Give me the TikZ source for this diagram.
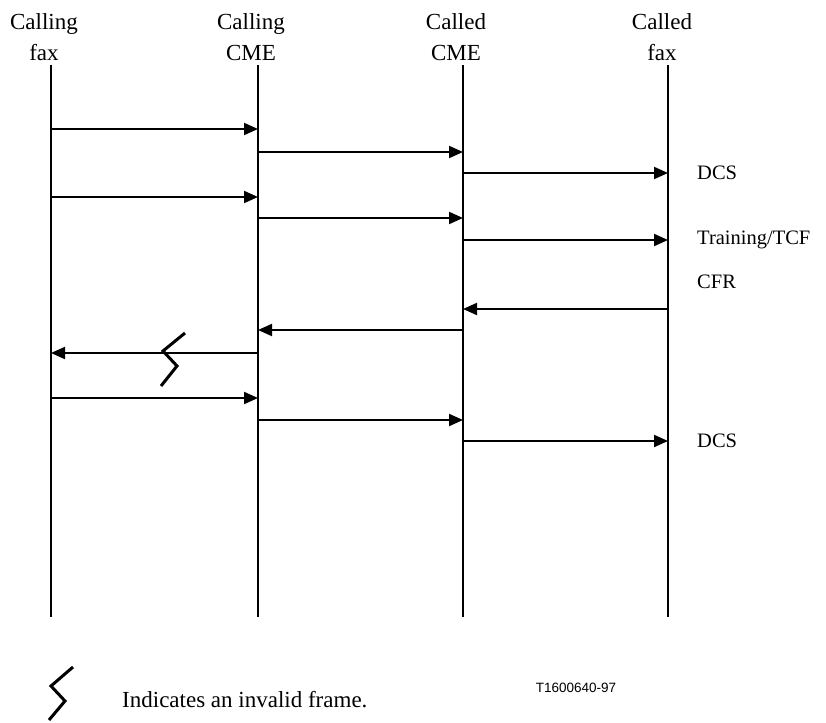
\documentclass[tikz,border=0pt]{standalone}
\usepackage{fontspec}
\setmainfont{Liberation Serif}
\setsansfont{Liberation Sans}
\usetikzlibrary{
  arrows.meta, % for the Triangle arrow tip
}
\tikzset{
  lifeline/.style={ % style for the vertical line of each party
    line width=2pt,
  },
  msg/.style={ % style for the messages
    -{Triangle[length=14pt,width=12pt]}, % filled triangle tip
    line width=2pt,
  },
  head/.style={ % style for the party names
    align=center,
    inner sep=0pt,
    font=\fontsize{23}{31}\selectfont,
  },
  lbl/.style={ % style for the frame names
    anchor=west,
    inner sep=0pt,
    font=\fontsize{20.5}{24}\selectfont,
  },
  badframe/.style={ % style for the invalid frame mark
    line width=3pt,
    line join=miter,
  },
}

\begin{document}
\begin{tikzpicture}[x=1pt,y=-1pt]
\useasboundingbox (0,0) rectangle (826,722);
\node[head] (hcf) at (44,37) {Calling\\fax};
\node[head] (hcc) at (251,37) {Calling\\CME};
\node[head] (hdc) at (456,37) {Called\\CME};
\node[head] (hdf) at (662,37) {Called\\fax};
\foreach \x/\n in {51/cf,258/cc,463/dc,668/df}{
  \coordinate (\n) at (\x,65);
  \coordinate (\n end) at (\x,617);
  \draw[lifeline] (\n) -- (\n end);
}
\foreach \a/\b/\y in {cf/cc/129,cc/dc/152,dc/df/173,cf/cc/197,cc/dc/218,dc/df/240,
  df/dc/309,dc/cc/330,cc/cf/353,cf/cc/398,cc/dc/420,dc/df/441}
  \draw[msg] (\a |- 0,\y) -- (\b |- 0,\y);
\node[lbl] (dcs1) at (697,173) {DCS};
\node[lbl] (tcf) at (697,240) {Training/TCF};
\node[lbl] (cfr) at (697,282) {CFR};
\node[lbl] (dcs2) at (697,441) {DCS};
\draw[badframe] (185,333) -- (163,351) -- (177,366) -- (161,386);
% legend
\draw[badframe] (73,667) -- (51,686) -- (65,701) -- (49,720);
\node[lbl, font=\fontsize{23}{28}\selectfont] (note) at (122,700) {Indicates an invalid frame.};
\node[font=\sffamily\fontsize{13.5}{16}\selectfont, inner sep=0pt] (ref) at (576,688) {T1600640-97};
\end{tikzpicture}
\end{document}
